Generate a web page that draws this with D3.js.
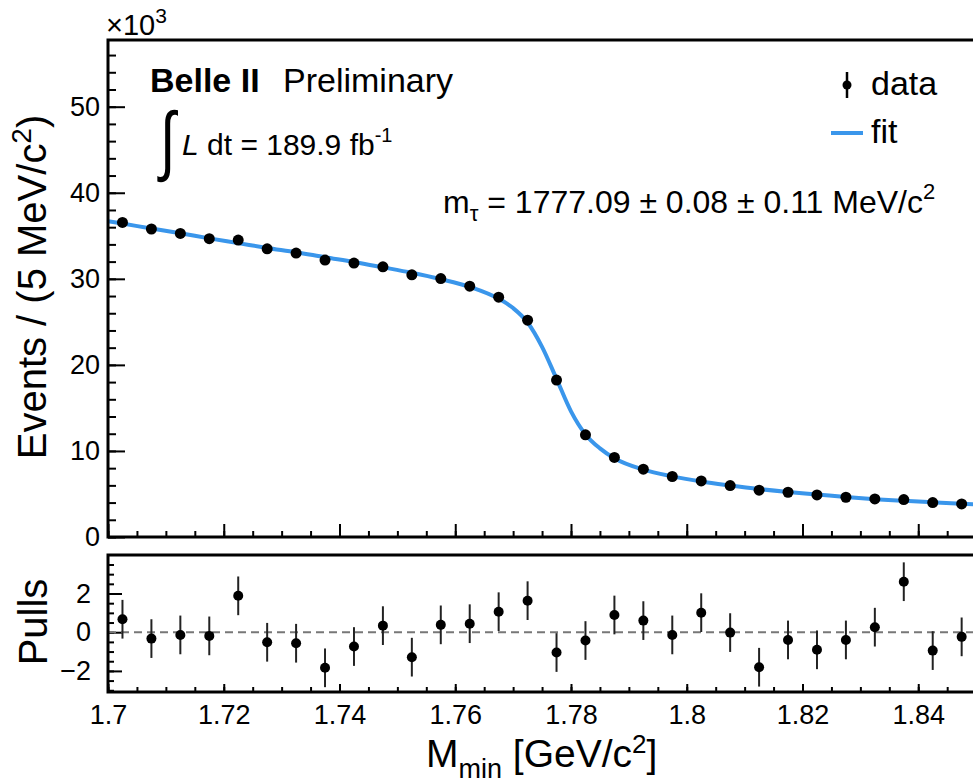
<!DOCTYPE html>
<html><head><meta charset="utf-8">
<script src="https://cdn.jsdelivr.net/npm/d3@7"></script>
<style>
body{margin:0;background:#fff}
svg{display:block}
text{font-family:"Liberation Sans",Arial,Helvetica,sans-serif;fill:#000}
</style>
</head><body>
<svg id="c" width="973" height="784"></svg>
<script>
// ---- data ----
const massBins = [1.7025,1.7075,1.7125,1.7175,1.7225,1.7275,1.7325,1.7375,1.7425,1.7475,
                  1.7525,1.7575,1.7625,1.7675,1.7725,1.7775,1.7825,1.7875,1.7925,1.7975,
                  1.8025,1.8075,1.8125,1.8175,1.8225,1.8275,1.8325,1.8375,1.8425,1.8475];
const events = [36.55,35.79,35.27,34.66,34.50,33.49,32.99,32.18,31.83,31.40,
                30.47,30.03,29.15,27.87,25.19,18.24,11.87,9.24,7.88,7.03,
                6.52,5.98,5.44,5.20,4.89,4.62,4.42,4.35,4.00,3.84]; // x10^3
const pulls = [0.67,-0.33,-0.14,-0.19,1.88,-0.52,-0.57,-1.84,-0.74,0.34,
               -1.29,0.38,0.44,1.06,1.63,-1.05,-0.43,0.89,0.60,-0.14,
               1.01,-0.02,-1.81,-0.40,-0.91,-0.40,0.26,2.61,-0.95,-0.24];
const pullErrors = [1,1,1,1,1,1,1,1,1,1,1,1,1,1,1,1,1,1,1,1,1,1,1,1,1,1,1,1,1,1];
const fitMass = [1.700,1.7025,1.7075,1.7125,1.7175,1.7225,1.7275,1.7325,1.7375,1.7425,
                 1.7475,1.7525,1.7575,1.7625,1.7675,1.770,1.7725,1.775,1.7775,1.780,
                 1.7825,1.785,1.7875,1.7925,1.7975,1.8025,1.8075,1.8125,1.8175,1.8225,
                 1.8275,1.8325,1.8375,1.8425,1.8475,1.860];
const fitEvents = [36.70,36.42,35.85,35.30,34.70,34.15,33.59,33.09,32.51,31.96,
                   31.34,30.70,29.96,29.07,27.69,26.6,24.93,22.1,18.38,14.6,
                   11.92,10.3,9.15,7.83,7.04,6.44,5.98,5.57,5.23,4.95,
                   4.65,4.40,4.21,4.04,3.87,3.6];
const xTickValues = [1.70,1.72,1.74,1.76,1.78,1.80,1.82,1.84];
const xTickLabels = ["1.7","1.72","1.74","1.76","1.78","1.8","1.82","1.84"];
const yTickValues = [0,10,20,30,40,50];
const yTickLabels = ["0","10","20","30","40","50"];
const pullTickValues = [-2,0,2];
const pullTickLabels = ["\u22122","0","2"];

// ---- layout ----
const svg = d3.select("#c");
const L = 108, R = 1034, T1 = 40, B1 = 537, T2 = 555, B2 = 692;
const FIT_COLOR = "#3a96eb";
const x = d3.scaleLinear().domain([1.70, 1.86]).range([L, R]);
const y = d3.scaleLinear().domain([0, 57.75]).range([B1, T1]);
const yp = d3.scaleLinear().domain([-3.09, 3.99]).range([B2, T2]);

const xMinor = d3.range(0, 33).map(i => 1.70 + i * 0.005);
const yMinor = d3.range(0, 29).map(i => i * 2);
const pMinor = d3.range(-6, 8).map(i => i * 0.5);

function styleAxis(g, fs) {
  g.select(".domain").remove();
  g.selectAll(".tick line").attr("stroke", "#000").attr("stroke-width", 2);
  g.selectAll(".tick text").attr("font-size", fs).attr("font-family", "Liberation Sans, Arial, sans-serif").attr("fill", "#000");
}

// ---- upper panel ----
svg.append("defs").append("clipPath").attr("id", "clipTop")
  .append("rect").attr("x", L).attr("y", T1).attr("width", R - L).attr("height", B1 - T1);

svg.append("g").attr("transform", `translate(${L},0)`)
  .call(d3.axisLeft(y).tickValues(yMinor).tickSize(-8).tickFormat(""))
  .call(g => styleAxis(g, 26));
svg.append("g").attr("transform", `translate(${L},0)`)
  .call(d3.axisLeft(y).tickValues(yTickValues).tickSize(-17).tickPadding(8)
        .tickFormat((d, i) => yTickLabels[i]))
  .call(g => styleAxis(g, 27));
svg.append("g").attr("transform", `translate(0,${B1})`)
  .call(d3.axisBottom(x).tickValues(xMinor).tickSize(-6).tickFormat(""))
  .call(g => styleAxis(g, 26));
svg.append("g").attr("transform", `translate(0,${B1})`)
  .call(d3.axisBottom(x).tickValues(xTickValues).tickSize(-13).tickFormat(""))
  .call(g => styleAxis(g, 26));

// fit line
const line = d3.line().x((d, i) => x(fitMass[i])).y(d => y(d)).curve(d3.curveMonotoneX);
svg.append("path").datum(fitEvents).attr("d", line)
  .attr("fill", "none").attr("stroke", FIT_COLOR).attr("stroke-width", 4)
  .attr("clip-path", "url(#clipTop)");

// data points
svg.append("g").selectAll("circle").data(events).join("circle")
  .attr("cx", (d, i) => x(massBins[i])).attr("cy", d => y(d)).attr("r", 5.5).attr("fill", "#000");

// frame
svg.append("rect").attr("x", L).attr("y", T1).attr("width", R - L).attr("height", B1 - T1)
  .attr("fill", "none").attr("stroke", "#000").attr("stroke-width", 3);

// ---- lower panel ----
svg.append("g").attr("transform", `translate(${L},0)`)
  .call(d3.axisLeft(yp).tickValues(pMinor).tickSize(-6).tickFormat(""))
  .call(g => styleAxis(g, 26));
svg.append("g").attr("transform", `translate(${L},0)`)
  .call(d3.axisLeft(yp).tickValues(pullTickValues).tickSize(-14).tickPadding(17)
        .tickFormat((d, i) => pullTickLabels[i]))
  .call(g => styleAxis(g, 27));
svg.append("g").attr("transform", `translate(0,${B2})`)
  .call(d3.axisBottom(x).tickValues(xMinor).tickSize(-5).tickFormat(""))
  .call(g => styleAxis(g, 26));
svg.append("g").attr("transform", `translate(0,${B2})`)
  .call(d3.axisBottom(x).tickValues(xTickValues).tickSize(-8).tickPadding(13)
        .tickFormat((d, i) => xTickLabels[i]))
  .call(g => styleAxis(g, 27));

// zero line
svg.append("line").attr("x1", L).attr("x2", R).attr("y1", yp(0)).attr("y2", yp(0))
  .attr("stroke", "#777").attr("stroke-width", 2).attr("stroke-dasharray", "8,5");

// pull error bars + points
const pg = svg.append("g");
pg.selectAll("line").data(pulls).join("line")
  .attr("x1", (d, i) => x(massBins[i])).attr("x2", (d, i) => x(massBins[i]))
  .attr("y1", (d, i) => yp(d - pullErrors[i])).attr("y2", (d, i) => yp(d + pullErrors[i]))
  .attr("stroke", "#222").attr("stroke-width", 2);
pg.selectAll("circle").data(pulls).join("circle")
  .attr("cx", (d, i) => x(massBins[i])).attr("cy", d => yp(d)).attr("r", 5).attr("fill", "#000");

svg.append("rect").attr("x", L).attr("y", T2).attr("width", R - L).attr("height", B2 - T2)
  .attr("fill", "none").attr("stroke", "#000").attr("stroke-width", 3);

// ---- texts ----
const mult = svg.append("text").attr("x", 106).attr("y", 35).attr("font-size", 29);
mult.append("tspan").text("\u00d710");
mult.append("tspan").attr("font-size", 21).attr("dy", -12).text("3");

const belle = svg.append("text").attr("x", 150).attr("y", 92).attr("font-size", 34);
belle.append("tspan").attr("font-weight", "bold").text("Belle II");
belle.append("tspan").attr("x", 283).text("Preliminary");

svg.append("text").attr("transform", "translate(160,166) scale(0.9,1.24)")
  .attr("font-size", 62).attr("font-family", "DejaVu Sans").text("\u222b");
const lum = svg.append("text").attr("x", 182).attr("y", 155).attr("font-size", 30);
lum.append("tspan").attr("font-style", "italic").text("L");
lum.append("tspan").text(" dt = 189.9 fb");
lum.append("tspan").attr("font-size", 20).attr("dy", -13).text("-1");

const mt = svg.append("text").attr("x", 443).attr("y", 213).attr("font-size", 32);
mt.append("tspan").text("m");
mt.append("tspan").attr("font-size", 22).attr("dy", 8).text("\u03c4");
mt.append("tspan").attr("dy", -8).text(" = 1777.09 \u00b1 0.08 \u00b1 0.11 MeV/c");
mt.append("tspan").attr("font-size", 22).attr("dy", -14).text("2");

// legend
svg.append("line").attr("x1", 847).attr("x2", 847).attr("y1", 72).attr("y2", 98)
  .attr("stroke", "#000").attr("stroke-width", 2.5);
svg.append("circle").attr("cx", 847).attr("cy", 85).attr("r", 4.5).attr("fill", "#000");
svg.append("text").attr("x", 871).attr("y", 95).attr("font-size", 34).text("data");
svg.append("line").attr("x1", 831).attr("x2", 863).attr("y1", 133).attr("y2", 133)
  .attr("stroke", FIT_COLOR).attr("stroke-width", 4);
svg.append("text").attr("x", 871).attr("y", 143).attr("font-size", 34).text("fit");

// axis titles
const yt = svg.append("text").attr("transform", "translate(46,287) rotate(-90)")
  .attr("text-anchor", "middle").attr("font-size", 40);
yt.append("tspan").text("Events / (5 MeV/c");
yt.append("tspan").attr("font-size", 28).attr("dy", -15).text("2");
yt.append("tspan").attr("dy", 15).text(")");

svg.append("text").attr("transform", "translate(47,622) rotate(-90)")
  .attr("text-anchor", "middle").attr("font-size", 40).text("Pulls");

const xt = svg.append("text").attr("x", 426).attr("y", 767).attr("font-size", 39);
xt.append("tspan").text("M");
xt.append("tspan").attr("font-size", 27).attr("dy", 11).text("min");
xt.append("tspan").attr("dy", -11).text(" [GeV/c");
xt.append("tspan").attr("font-size", 26).attr("dy", -14).text("2");
xt.append("tspan").attr("dy", 14).text("]");
</script>
</body></html>
